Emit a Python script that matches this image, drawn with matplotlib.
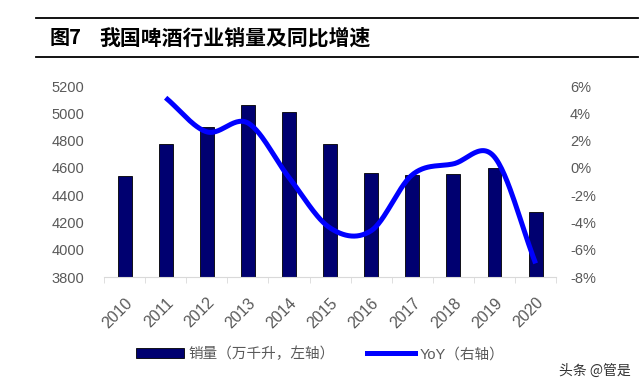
import numpy as np
import matplotlib.pyplot as plt
from matplotlib.lines import Line2D

plt.rcParams['font.family'] = ['Liberation Sans', 'Noto Sans CJK SC']

years = ['2010', '2011', '2012', '2013', '2014', '2015', '2016', '2017', '2018', '2019', '2020']
sales = [4541, 4774, 4901, 5060, 5009, 4774, 4563, 4546, 4559, 4596, 4277]
yoy_years = ['2011', '2012', '2013', '2014', '2015', '2016', '2017', '2018', '2019', '2020']
yoy = [5.15, 2.65, 3.3, -0.7, -4.4, -4.6, -0.5, 0.3, 0.8, -7.0]

GRAY = '#595959'


def smooth(x, y, n=30):
    # Excel-style smoothed line (Catmull-Rom through the points)
    x = np.asarray(x, float)
    y = np.asarray(y, float)
    px = np.concatenate([[2 * x[0] - x[1]], x, [2 * x[-1] - x[-2]]])
    py = np.concatenate([[2 * y[0] - y[1]], y, [2 * y[-1] - y[-2]]])
    xs, ys = [], []
    t = np.linspace(0, 1, n)
    for i in range(1, len(px) - 2):
        for p, out in ((px, xs), (py, ys)):
            p0, p1, p2, p3 = p[i - 1], p[i], p[i + 1], p[i + 2]
            m1 = (p2 - p0) / 2
            m2 = (p3 - p1) / 2
            h00 = 2 * t**3 - 3 * t**2 + 1
            h10 = t**3 - 2 * t**2 + t
            h01 = -2 * t**3 + 3 * t**2
            h11 = t**3 - t**2
            out.extend(h00 * p1 + h10 * m1 + h01 * p2 + h11 * m2)
    return np.array(xs), np.array(ys)


fig = plt.figure(figsize=(6.4, 3.88), dpi=100)
ax = fig.add_axes([0.1625, 0.286, 0.7065, 0.492])

xpos = np.arange(len(years))
ax.bar(xpos, sales, width=0.34, color='#000070', edgecolor='black', linewidth=0.6, zorder=2)
ax.set_ylim(3800, 5200)
ax.set_yticks(np.arange(3800, 5201, 200))
ax.set_xlim(-0.5, len(years) - 0.5)
ax.set_xticks(xpos)
ax.set_xticklabels(years, rotation=45, ha='right', rotation_mode='anchor')
ax.set_xticks(np.arange(-0.5, len(years), 1), minor=True)
ax.tick_params(axis='x', which='major', length=0, labelsize=11.5, colors=GRAY, pad=13)
ax.tick_params(axis='x', which='minor', length=4, color='#D9D9D9', direction='out')
ax.tick_params(axis='y', length=0, labelsize=10.5, colors=GRAY, pad=14)
for s in ['top', 'left', 'right']:
    ax.spines[s].set_visible(False)
ax.spines['bottom'].set_color('#D9D9D9')

ax2 = ax.twinx()
yx = [years.index(y) for y in yoy_years]
sx, sy = smooth(yx, yoy)
ax2.plot(sx, sy, color='#0000FF', linewidth=3.6, solid_capstyle='butt', zorder=3)
ax2.set_ylim(-8, 6)
ax2.set_yticks(np.arange(-8, 7, 2))
ax2.set_yticklabels([f'{v}%' for v in range(-8, 7, 2)])
ax2.tick_params(axis='y', length=0, labelsize=10.5, colors=GRAY, pad=10)
for s in ['top', 'left', 'right', 'bottom']:
    ax2.spines[s].set_visible(False)

# title block
fig.add_artist(Line2D([0.057, 0.997], [0.953, 0.953], color='black', linewidth=1.3))
fig.add_artist(Line2D([0.057, 0.997], [0.853, 0.853], color='black', linewidth=1.3))
fig.text(0.078, 0.903, '图7', fontsize=14.5, fontweight='bold',
         va='center', ha='left', family=['Noto Sans CJK SC'])
fig.text(0.156, 0.903, '我国啤酒行业销量及同比增速', fontsize=15, fontweight='bold',
         va='center', ha='left', family=['Noto Sans CJK SC'])

handles = [plt.Rectangle((0, 0), 1, 1, facecolor='#000070', edgecolor='black', linewidth=0.6),
           Line2D([0], [0], color='#0000FF', linewidth=3.6)]
leg = fig.legend(handles, ['销量（万千升，左轴）', 'YoY（右轴）'], loc='center',
                 bbox_to_anchor=(0.5, 0.088), ncol=2, frameon=False, fontsize=10.5,
                 handlelength=3.3, handleheight=0.6, columnspacing=2.2, handletextpad=0.3)
for t in leg.get_texts():
    t.set_color(GRAY)

fig.text(0.985, 0.025, '头条 @管是', fontsize=10, color='#333333', ha='right', va='bottom',
         family=['Noto Sans CJK SC'])

fig.savefig('out.png', dpi=100, facecolor='white')
